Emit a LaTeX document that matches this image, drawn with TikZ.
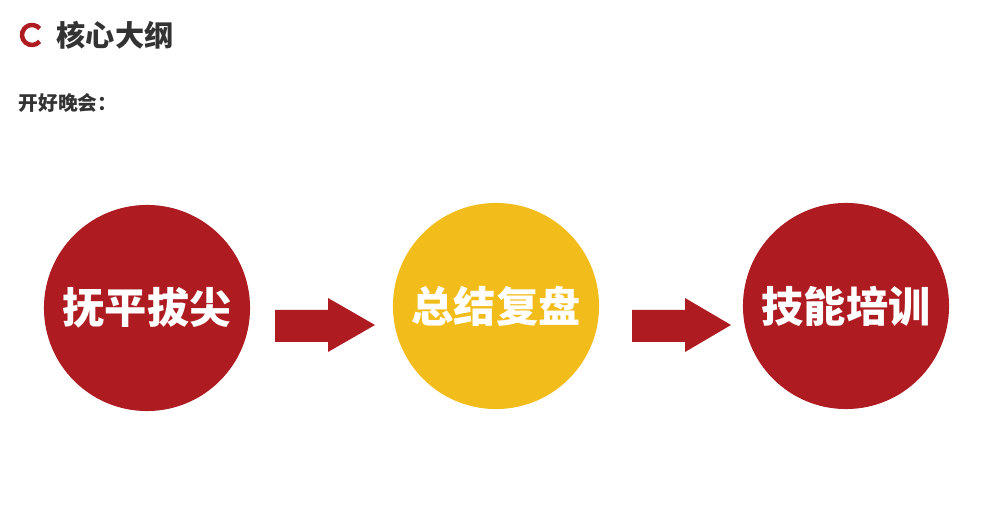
\documentclass[tikz,border=0pt]{standalone}
\usepackage{fontspec}
\newfontfamily\cjk{Noto Sans CJK SC}
\definecolor{cred}{HTML}{AE1C22}
\definecolor{cyel}{HTML}{F2BC1A}
\definecolor{ctxt}{HTML}{333333}
\tikzset{ball/.style={circle,minimum size=2.06cm,inner sep=0pt,text=white,font=\cjk\bfseries\fontsize{12}{14}\selectfont},
 arr/.style={fill=cred,draw=none}}
\begin{document}
\begin{tikzpicture}[x=0.01cm,y=-0.01cm]
\useasboundingbox (0,0) rectangle (1000,513);
\draw[cred,line width=0.045cm] (32,35) ++(40:10) arc (40:320:10);
\node[anchor=west,text=ctxt,font=\cjk\bfseries\fontsize{8.3}{10}\selectfont,inner sep=0pt] (title) at (56,35) {核心大纲};
\node[anchor=west,text=ctxt,font=\cjk\bfseries\fontsize{5.6}{7}\selectfont,inner sep=0pt] (sub) at (18,103) {开好晚会：};
\node[ball,fill=cred] (a) at (147,308) {抚平拔尖};
\node[ball,fill=cyel] (b) at (496,306) {总结复盘};
\node[ball,fill=cred] (c) at (846,306) {技能培训};
\fill[arr] (275,310) -- (328,310) -- (328,298) -- (375,325) -- (328,352) -- (328,342) -- (275,342) -- cycle;
\fill[arr] (632,310) -- (685,310) -- (685,298) -- (731,325) -- (685,352) -- (685,342) -- (632,342) -- cycle;
\end{tikzpicture}
\end{document}
